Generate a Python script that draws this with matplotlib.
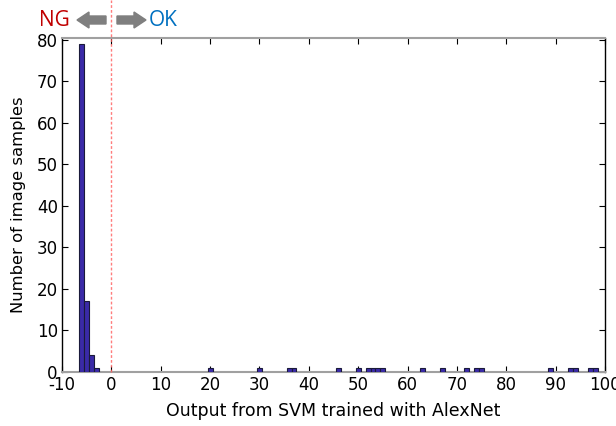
import matplotlib
matplotlib.use("Agg")
import matplotlib.pyplot as plt
from matplotlib.patches import FancyArrow

# Data: histogram bin centers (integer SVM outputs) and sample counts
bin_centers = [-6, -5, -4, -3, 20, 30, 36, 37, 46, 50, 52, 53, 54, 55,
               63, 67, 72, 74, 75, 89, 93, 94, 97, 98]
counts = [79, 17, 4, 1, 1, 1, 1, 1, 1, 1, 1, 1, 1, 1,
          1, 1, 1, 1, 1, 1, 1, 1, 1, 1]
x_ticks = [-10, 0, 10, 20, 30, 40, 50, 60, 70, 80, 90, 100]
y_ticks = [0, 10, 20, 30, 40, 50, 60, 70, 80]

plt.rcParams['font.family'] = ['DejaVu Sans']
plt.rcParams['axes.unicode_minus'] = False

W, H = 616, 426
fig = plt.figure(figsize=(6.16, 4.26), dpi=100)
ax = fig.add_axes([62/W, 1 - 372/H, (605-62)/W, (372-38)/H])

ax.bar(bin_centers, counts, width=1.0, color='#3a2aa8', edgecolor='#1a1a3a',
       linewidth=0.8, zorder=3)

ax.set_xlim(-10, 100)
ax.set_ylim(0, 80.4)
ax.set_xticks(x_ticks)
ax.set_yticks(y_ticks)
ax.tick_params(direction='in', top=True, right=True, length=4, width=0.8,
               labelsize=12, colors='black', pad=3)
for s in ['top', 'bottom']:
    ax.spines[s].set_color('#a0a0a0')
    ax.spines[s].set_linewidth(1.5)
for s in ['left', 'right']:
    ax.spines[s].set_color('black')
    ax.spines[s].set_linewidth(1.0)

ax.set_xlabel('Output from SVM trained with AlexNet', fontsize=12.5, labelpad=6)
ax.set_ylabel('Number of image samples', fontsize=11.8, labelpad=8)

# dashed threshold line at 0, extending above the axes to the figure top
ax.axvline(0, ymin=0, ymax=372/(372-38), color='#ff5c5c',
           linestyle=(0, (2, 1.5)), linewidth=1.0, alpha=0.8,
           clip_on=False, zorder=4)

# NG / OK annotations with arrows (figure pixel coords)
tr = fig.transFigure
yc = 1 - 20/H
fig.text(39/W, yc, 'NG', color='#c00000', fontsize=15, family=['Open Sans', 'DejaVu Sans'],
         ha='left', va='center')
fig.text(149/W, yc, 'OK', color='#0070c0', fontsize=15, family=['Open Sans', 'DejaVu Sans'],
         ha='left', va='center')
fig.patches.append(FancyArrow(106/W, yc, -29/W, 0, width=8/H, head_width=16/H,
                              head_length=12/W, length_includes_head=True,
                              color='#7f7f7f', transform=tr, figure=fig))
fig.patches.append(FancyArrow(117/W, yc, 29/W, 0, width=8/H, head_width=16/H,
                              head_length=12/W, length_includes_head=True,
                              color='#7f7f7f', transform=tr, figure=fig))

fig.savefig('out.png', dpi=100)
